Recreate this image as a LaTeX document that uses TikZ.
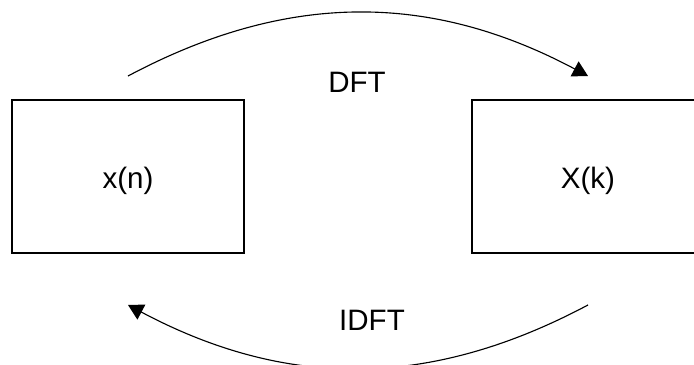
\documentclass[tikz,border=0pt]{standalone}
\usepackage{fontspec}
\setmainfont{Liberation Sans}
\usetikzlibrary{arrows.meta}

\begin{document}
\begin{tikzpicture}[>={Triangle[length=0.38cm,width=0.42cm]}]
\tikzset{
  sigbox/.style={draw, line width=1.4pt, minimum width=5.8cm, minimum height=3.825cm,
    text height=0.8cm, text depth=0.2cm, font=\fontsize{21}{25}\selectfont},
  tflabel/.style={font=\fontsize{21}{25}\selectfont},
  tfarc/.style={->, line width=0.8pt}
}
\useasboundingbox (0,0) rectangle (17.35,9.125);
\clip (0,0) rectangle (17.35,9.125);

% Time and frequency domain boxes
\node[sigbox] (xn) at (3.2,4.7125) {x(n)};
\node[sigbox] (Xk) at (14.7,4.7125) {X(k)};

% Forward transform
\draw[tfarc] ([yshift=0.575cm]xn.north) to[bend left=28] ([yshift=0.575cm]Xk.north);
\node[tflabel] (dft) at (8.925,7.075) {DFT};

% Inverse transform
\draw[tfarc] ([yshift=-1.275cm]Xk.south) to[bend left=28] ([yshift=-1.275cm]xn.south);
\node[tflabel] (idft) at (9.3,1.125) {IDFT};

\end{tikzpicture}
\end{document}
